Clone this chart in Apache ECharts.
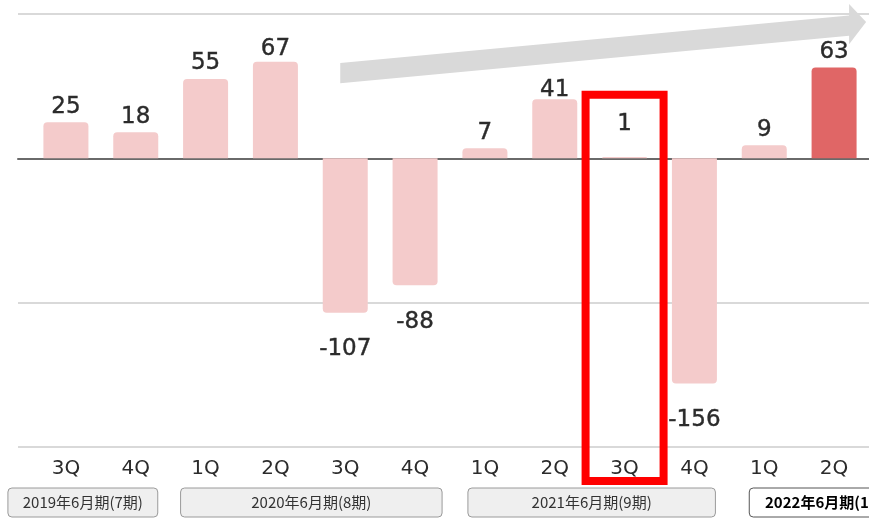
<!DOCTYPE html>
<html>
<head>
<meta charset="utf-8">
<script src="https://cdn.jsdelivr.net/npm/echarts@6/dist/echarts.min.js"></script>
<style>
html,body{margin:0;padding:0;background:#ffffff;}
#c{width:869px;height:519px;}
</style>
</head>
<body>
<div id="c"></div>
<script>
// ---- data ----
const categories = ['3Q','4Q','1Q','2Q','3Q','4Q','1Q','2Q','3Q','4Q','1Q','2Q'];
const values = [25, 18, 55, 67, -107, -88, 7, 41, 1, -156, 9, 63];
const periodLabels = ['2019年6月期(7期)', '2020年6月期(8期)', '2021年6月期(9期)', '2022年6月期(10期)'];
const periodFirst = [0, 2, 6, 10];
const periodLast = [1, 5, 9, 11];
const highlightIndex = 8;   // boxed quarter
const currentIndex = 11;    // latest quarter (dark bar)
const currentPeriod = 3;
const yMin = -200, yMax = 100, yStep = 100;

// ---- style ----
const PINK = '#F4CBCB';
const RED = '#E06666';
const TEXT = '#2b2b2b';
const VALUE_FONT = 'DejaVu Sans';
const labelDistance = { 3: 1, 7: -2, 8: 21 };
const boxPads = [[-58, 22], [-25, 27], [-17, 21], [-15, 80]];

const chart = echarts.init(document.getElementById('c'), null, { renderer: 'canvas' });

const barData = values.map((v, i) => ({
  value: v,
  itemStyle: {
    color: i === currentIndex ? RED : PINK,
    borderRadius: v >= 0 ? [4, 4, 0, 0] : [0, 0, 4, 4]
  },
  label: {
    position: v >= 0 ? 'top' : 'bottom',
    distance: v >= 0 ? (labelDistance[i] !== undefined ? labelDistance[i] : 4) : 25
  }
}));

chart.setOption({
  animation: false,
  backgroundColor: '#ffffff',
  grid: [
    { left: 18, right: 0, top: 14, height: 433, containLabel: false },
    { left: 31, width: 839, top: 14, height: 433, containLabel: false }
  ],
  xAxis: [
    {
      gridIndex: 0, type: 'value', min: 0, max: 1,
      axisLine: { show: true, onZero: true, lineStyle: { color: '#6a6a6a', width: 2 } },
      axisTick: { show: false }, axisLabel: { show: false }, splitLine: { show: false }
    },
    {
      gridIndex: 1, type: 'category', data: categories,
      axisLine: { show: false }, axisTick: { show: false }, splitLine: { show: false },
      axisLabel: { show: true, color: TEXT, fontSize: 20, fontFamily: VALUE_FONT, margin: 12, interval: 0 }
    }
  ],
  yAxis: [
    {
      gridIndex: 0, type: 'value', min: yMin, max: yMax, interval: yStep,
      axisLine: { show: false }, axisTick: { show: false }, axisLabel: { show: false },
      splitLine: { show: true, lineStyle: { color: '#d9d9d9', width: 2 } }
    },
    {
      gridIndex: 1, type: 'value', min: yMin, max: yMax, interval: yStep,
      axisLine: { show: false }, axisTick: { show: false }, axisLabel: { show: false },
      splitLine: { show: false }
    }
  ],
  series: [
    {
      type: 'line', xAxisIndex: 0, yAxisIndex: 0, data: [], silent: true
    },
    {
      type: 'bar', xAxisIndex: 1, yAxisIndex: 1, barWidth: 45, z: 3,
      data: barData,
      label: {
        show: true, color: TEXT, fontSize: 23, fontFamily: VALUE_FONT,
        textBorderColor: TEXT, textBorderWidth: 0.4
      }
    }
  ]
});

// ---- annotations positioned through the axes ----
const cx = i => chart.convertToPixel({ xAxisIndex: 1 }, i);
const cy = v => chart.convertToPixel({ yAxisIndex: 1 }, v);

const elements = [];

// trend arrow
const ax0 = cx(4) - 5, ax1 = cx(11) + 15, axTip = cx(11) + 32;
elements.push({
  type: 'polygon', z: 1,
  shape: {
    points: [
      [ax0, cy(66)], [ax1, cy(99)], [ax1, cy(107)], [axTip, cy(94.5)],
      [ax1, cy(79)], [ax1, cy(85)], [ax0, cy(52)]
    ]
  },
  style: { fill: '#d9d9d9' }
});

// highlight frame
const rTop = cy(44), rBottom = cy(yMin) + 34;
elements.push({
  type: 'rect', z: 100,
  shape: { x: cx(highlightIndex) - 39, y: rTop, width: 78, height: rBottom - rTop },
  style: { fill: 'none', stroke: '#FF0000', lineWidth: 8 }
});

// fiscal period boxes
const bTop = cy(yMin) + 41, bH = 29;
periodLabels.forEach((lab, k) => {
  const x0 = cx(periodFirst[k]) + boxPads[k][0];
  const x1 = cx(periodLast[k]) + boxPads[k][1];
  const cur = k === currentPeriod;
  elements.push({
    type: 'rect', z: 50,
    shape: { x: x0, y: bTop, width: x1 - x0, height: bH, r: 4 },
    style: { fill: cur ? '#ffffff' : '#efefef', stroke: cur ? '#555555' : '#9a9a9a', lineWidth: 1 }
  });
  elements.push({
    type: 'text', z: 51,
    x: (x0 + x1) / 2, y: bTop + bH / 2,
    style: {
      text: lab,
      font: (cur ? 'bold ' : '') + '15px "Noto Sans CJK JP"',
      fill: cur ? '#000000' : '#333333',
      textAlign: 'center', textVerticalAlign: 'middle'
    }
  });
});

chart.setOption({ graphic: { elements: elements } });
</script>
</body>
</html>
